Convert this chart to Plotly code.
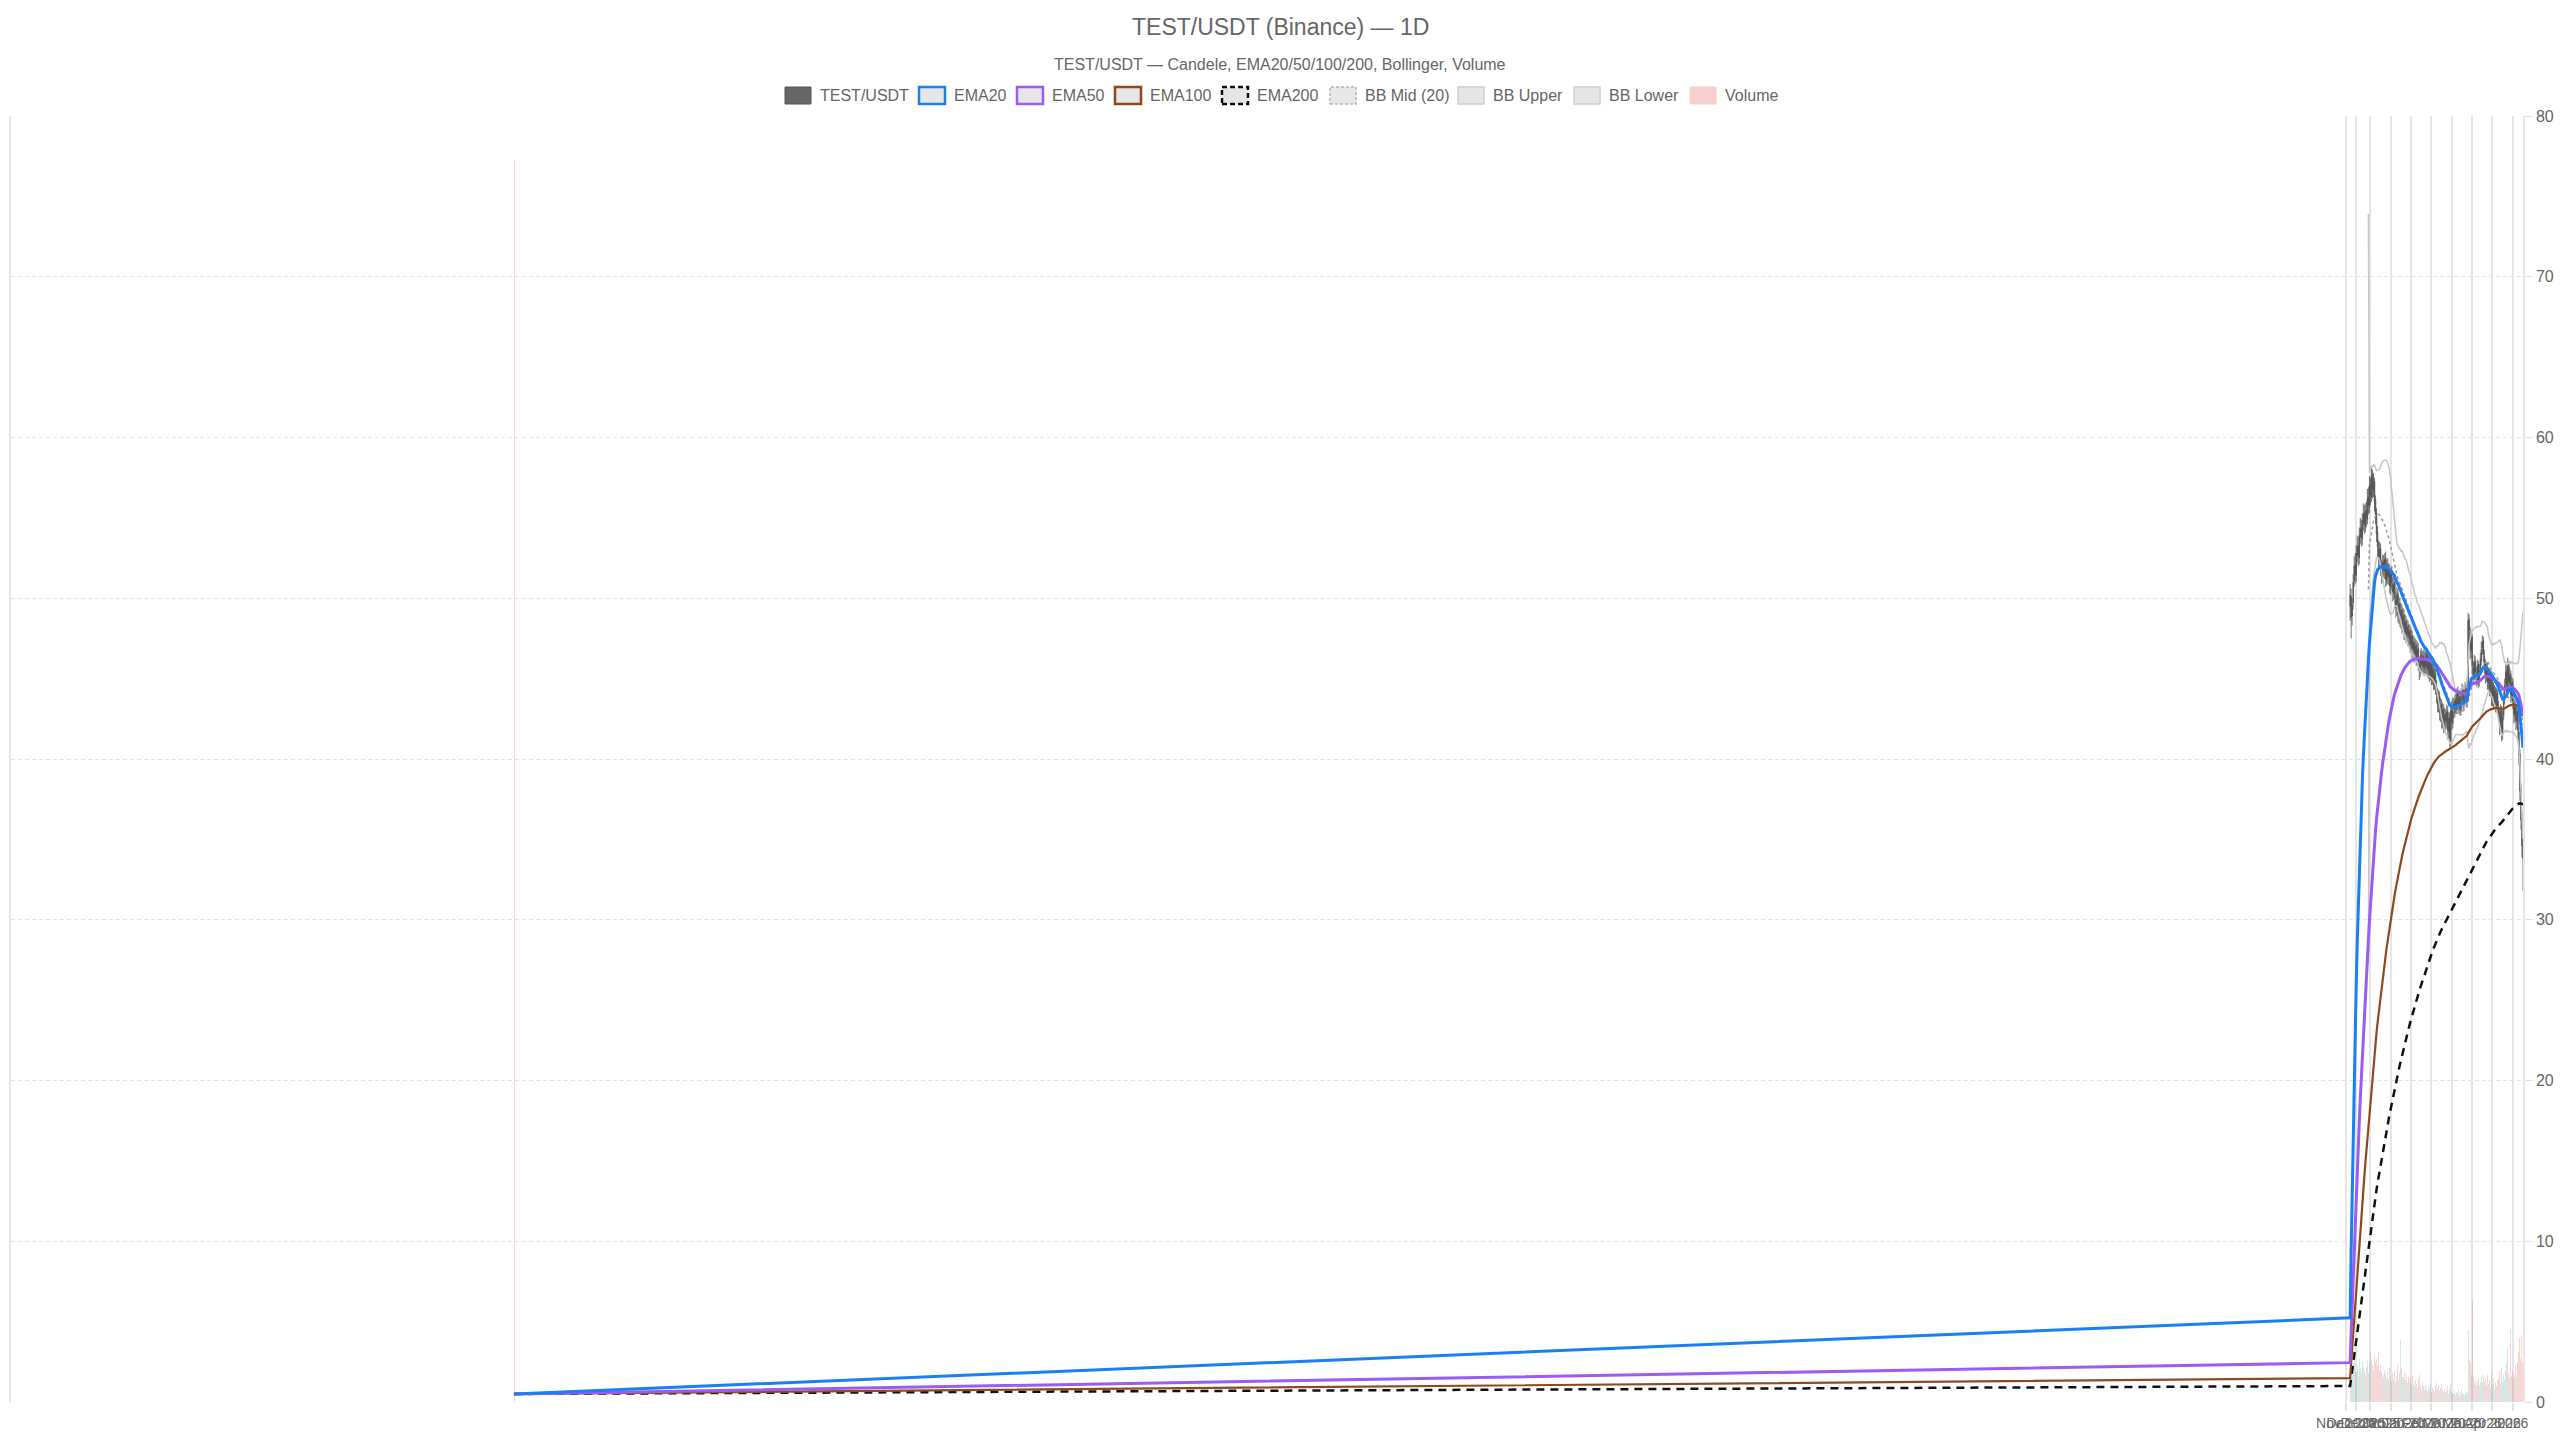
import pandas as pd
import plotly.graph_objects as go

# ---------------- data ----------------
first_point_date = "2020-12-16"          # isolated early bar
first_point_ohlc = (0.52, 0.60, 0.40, 0.50)
first_point_volume = 12000

candle_start = "2025-11-25"              # daily candles from here

opens = [
    49.5, 50.1, 48.9, 49.7, 51.1, 52.1,
    51.4, 52.7, 53.3, 52.5, 53.8, 54.4, 53.7, 54.7,
    55.3, 54.5, 55.5, 54.9, 56.3,
    55.7, 57.1, 56.3, 57.7, 56.7, 57.3, 56.1,
    55.3, 54.1, 53.1, 52.3, 53.1, 51.9, 51.5,
    52.3, 51.7, 52.5, 51.1, 52.1, 51.3, 51.8, 50.7, 51.6, 50.9, 50.3,
    51.0, 49.9, 49.3, 50.3, 48.9, 49.7, 48.7, 49.3, 48.3, 49.0,
    47.9, 48.6, 47.7, 48.3, 47.5, 48.0, 47.1, 47.7,
    46.8, 47.3, 46.5, 47.1, 46.2, 46.9, 45.9, 45.5, 46.5, 45.8, 46.4,
    45.6, 46.3, 45.7, 46.6, 45.5, 46.1, 45.2, 45.9, 45.0, 45.6, 44.7, 45.3,
    44.5, 44.1, 43.3, 43.9, 42.8, 43.4, 42.4, 43.1, 42.1, 42.8,
    42.3, 43.0, 41.7, 42.6, 41.1, 43.1, 42.2,
    43.4, 42.9, 43.7, 43.1, 44.1, 43.3, 43.9, 43.0, 44.0, 44.3, 43.4, 44.0, 44.4, 43.6,
    44.1, 48.7, 47.9, 46.7, 47.6,
    45.7, 45.3, 46.1, 45.3, 44.9, 45.9, 44.8, 45.6,
    46.1, 46.9, 47.4,
    46.4, 45.9, 45.1, 45.7, 44.7, 45.4, 44.3, 45.0, 43.7, 44.6, 43.5, 44.3, 43.3, 44.1,
    43.2, 42.9, 41.9, 43.1, 41.5,
    42.7, 43.7, 44.7, 45.5, 44.1, 45.9, 44.7, 45.3, 43.9,
    44.8, 43.5, 42.7, 43.3, 42.3,
    43.0, 41.7, 40.3, 38.1, 36.3, 34.7,
]
highs = [
    50.9, 50.6, 50.0, 51.5, 52.6, 52.8,
    53.3, 53.9, 53.8, 54.4, 55.0, 54.9, 55.3, 55.9,
    55.8, 55.9, 56.0, 56.8, 56.9,
    57.6, 57.5, 58.1, 58.0, 57.8, 57.5, 56.4,
    55.6, 54.5, 53.6, 53.5, 53.4, 52.4, 52.7,
    52.7, 52.8, 52.9, 52.4, 52.5, 52.2, 52.1, 51.9, 52.0, 51.3, 51.4,
    51.5, 50.4, 50.7, 50.6, 50.1, 50.0, 49.7, 49.6, 49.4, 49.3,
    49.0, 48.9, 48.7, 48.6, 48.4, 48.3, 48.1, 48.0,
    47.7, 47.6, 47.5, 47.4, 47.3, 47.2, 46.3, 46.8, 46.9, 46.7, 46.8,
    46.7, 46.8, 47.0, 46.9, 46.5, 46.4, 46.3, 46.2, 46.0, 45.9, 45.7, 45.6,
    44.9, 44.4, 44.3, 44.2, 43.8, 43.7, 43.5, 43.4, 43.2, 43.1,
    43.4, 43.3, 42.9, 42.9, 43.5, 43.6, 43.8,
    43.8, 44.0, 44.1, 44.4, 44.5, 44.2, 44.3, 44.4, 44.7, 44.6, 44.3, 44.8, 44.7, 44.4,
    49.1, 49.0, 48.2, 48.0, 47.8,
    46.1, 46.5, 46.4, 45.7, 46.2, 46.1, 45.9, 46.6,
    47.3, 47.7, 47.6,
    46.8, 46.2, 46.0, 46.0, 45.7, 45.6, 45.3, 45.2, 44.9, 44.8, 44.6, 44.5, 44.4, 44.3,
    43.6, 43.2, 43.4, 43.3, 43.0,
    44.2, 45.0, 45.9, 45.8, 46.3, 46.1, 45.7, 45.5, 45.1,
    45.0, 43.9, 43.7, 43.6, 43.4,
    43.2, 42.0, 40.6, 38.5, 36.7, 35.2,
]
lows = [
    48.6, 47.5, 48.3, 49.3, 50.7, 50.9,
    51.0, 52.2, 52.0, 52.1, 53.4, 53.2, 53.3, 54.2,
    54.0, 54.1, 54.4, 54.6, 55.2,
    55.3, 55.8, 56.0, 56.2, 56.3, 55.4, 54.6,
    53.5, 52.6, 51.8, 51.9, 51.4, 50.9, 51.0,
    51.3, 51.2, 50.7, 50.8, 50.9, 50.8, 50.3, 50.2, 50.5, 49.8, 49.9,
    49.6, 48.8, 48.9, 48.5, 48.4, 48.2, 48.1, 47.8, 47.9, 47.4,
    47.4, 47.2, 47.3, 47.0, 47.0, 46.6, 46.7, 46.3,
    46.3, 46.0, 46.1, 45.8, 45.8, 45.5, 44.9, 45.1, 45.4, 45.3, 45.2,
    45.2, 45.3, 45.3, 45.1, 45.0, 44.8, 44.9, 44.6, 44.6, 44.3, 44.3, 44.0,
    43.5, 42.9, 42.9, 42.4, 42.3, 41.9, 41.9, 41.6, 41.7, 41.8,
    41.9, 41.2, 41.3, 40.7, 40.8, 41.8, 41.9,
    42.5, 42.6, 42.8, 42.8, 43.0, 42.9, 42.7, 42.7, 43.6, 43.1, 43.0, 43.7, 43.3, 43.2,
    43.8, 47.3, 46.2, 46.3, 45.3,
    44.7, 44.9, 44.9, 44.5, 44.6, 44.4, 44.5, 45.2,
    45.8, 46.5, 46.0,
    45.3, 44.7, 44.8, 44.3, 44.3, 43.9, 43.9, 43.3, 43.3, 43.1, 43.1, 42.9, 42.9, 42.8,
    42.3, 41.5, 41.6, 41.1, 41.2,
    42.4, 43.4, 44.3, 43.8, 43.9, 44.3, 44.3, 43.5, 43.6,
    43.1, 42.2, 42.3, 41.8, 41.9,
    41.2, 39.6, 37.4, 35.6, 33.9, 31.8,
]
closes = [
    50.2, 48.8, 49.6, 51.0, 52.0, 51.5,
    52.8, 53.2, 52.6, 53.9, 54.3, 53.8, 54.8, 55.2,
    54.6, 55.4, 55.0, 56.2, 55.8,
    57.0, 56.4, 57.6, 56.8, 57.2, 56.0, 55.2,
    54.0, 53.2, 52.4, 53.0, 52.0, 51.6, 52.2,
    51.8, 52.4, 51.2, 52.0, 51.4, 51.7, 50.8, 51.5, 51.0, 50.4, 50.9,
    50.0, 49.4, 50.2, 49.0, 49.6, 48.8, 49.2, 48.4, 48.9, 48.0,
    48.5, 47.8, 48.2, 47.6, 47.9, 47.2, 47.6, 46.9,
    47.2, 46.6, 47.0, 46.3, 46.8, 46.0, 45.6, 46.4, 45.9, 46.3, 45.7,
    46.2, 45.8, 46.5, 45.6, 46.0, 45.3, 45.8, 45.1, 45.5, 44.8, 45.2, 44.6,
    44.0, 43.4, 43.8, 42.9, 43.3, 42.5, 43.0, 42.2, 42.7, 42.4,
    42.9, 41.8, 42.5, 41.2, 43.0, 42.3, 43.3,
    43.0, 43.6, 43.2, 44.0, 43.4, 43.8, 43.1, 43.9, 44.2, 43.5, 43.9, 44.3, 43.7, 44.0,
    48.6, 48.0, 46.8, 47.5, 45.8,
    45.2, 46.0, 45.4, 45.0, 45.8, 44.9, 45.5, 46.2,
    46.8, 47.3, 46.5,
    45.8, 45.2, 45.6, 44.8, 45.3, 44.4, 44.9, 43.8, 44.5, 43.6, 44.2, 43.4, 44.0, 43.3,
    42.8, 42.0, 43.0, 41.6, 42.6,
    43.8, 44.6, 45.4, 44.2, 45.8, 44.8, 45.2, 44.0, 44.7,
    43.6, 42.8, 43.2, 42.4, 42.9,
    41.8, 40.2, 38.0, 36.2, 34.6, 33.8,
]
volumes = [
    320, 410, 260, 380, 450, 300,
    290, 360, 250, 420, 330, 280, 390, 350,
    300, 260, 340, 410, 280,
    380, 480, 420, 360, 310, 440, 390,
    420, 350, 480, 300, 360, 290, 260,
    240, 310, 270, 230, 290, 210, 330, 250, 200, 280, 220,
    300, 190, 250, 370, 210, 280, 600, 330, 240, 290,
    210, 260, 180, 240, 200, 230, 170, 250,
    190, 150, 210, 170, 140, 220, 260, 160, 130, 180, 150,
    120, 160, 140, 110, 150, 130, 170, 100, 140, 120, 90, 150,
    180, 130, 160, 110, 140, 170, 120, 100, 130, 90,
    110, 150, 80, 130, 170, 100, 90,
    80, 110, 70, 100, 90, 120, 60, 100, 130, 80, 70, 110, 90, 100,
    700, 420, 380, 260, 980,
    240, 180, 210, 150, 200, 230, 160, 190,
    240, 200, 260,
    190, 220, 150, 260, 170, 210, 140, 280, 160, 230, 130, 190, 150, 210,
    220, 300, 170, 330, 190,
    260, 210, 300, 380, 520, 280, 230, 700, 250,
    300, 220, 260, 350, 240,
    380, 480, 620, 420, 650, 390,
]
assert len(opens) == len(highs) == len(lows) == len(closes) == len(volumes)

x_range = ["2019-08-09", "2026-05-14"]
tick_dates = ["2025-11-21", "2025-12-01", "2025-12-15", "2026-01-04", "2026-01-24",
              "2026-02-13", "2026-03-05", "2026-03-25", "2026-04-14", "2026-05-04"]
tick_labels = ["Nov 2025", "Dec 2025", "Dec 2025", "Jan 2026", "Jan 2026",
               "Feb 2026", "Mar 2026", "Mar 2026", "Apr 2026", "2026"]
price_ticks = [0, 10, 20, 30, 40, 50, 60, 70, 80]

# ---------------- assemble series ----------------
dates = [pd.Timestamp(first_point_date)] + list(pd.date_range(candle_start, periods=len(closes), freq="D"))
o = [first_point_ohlc[0]] + opens
h = [first_point_ohlc[1]] + highs
l = [first_point_ohlc[2]] + lows
c = [first_point_ohlc[3]] + closes
v = [first_point_volume] + volumes

cs = pd.Series(c)
ema = {n: cs.ewm(span=n, adjust=False).mean() for n in (20, 50, 100, 200)}
bb_mid = cs.rolling(20).mean()
bb_std = cs.rolling(20).std(ddof=0)
bb_up = bb_mid + 2 * bb_std
bb_lo = bb_mid - 2 * bb_std

vol_colors = ["rgba(239,83,80,0.25)" if cc < oo else "rgba(38,166,154,0.22)" for oo, cc in zip(o, c)]

# ---------------- figure ----------------
W, H = 2560, 1440
L, R, T, B = 11, 37, 116, 38
PW, PH = W - L - R, H - T - B
FONT = "Liberation Sans, Arial, Helvetica, sans-serif"
TXT = "#666666"
GRID = "#e3e3e3"


def px_x(px):
    return (px - L) / PW


def px_y(py):
    return (H - B - py) / PH


fig = go.Figure()

fig.add_trace(go.Bar(x=dates, y=v, marker=dict(color=vol_colors, line=dict(width=0)),
                     yaxis="y", name="Volume", showlegend=False, hoverinfo="skip"))

fig.add_trace(go.Candlestick(
    x=dates, open=o, high=h, low=l, close=c, yaxis="y2", name="TEST/USDT",
    increasing=dict(line=dict(color="#4f4f4f", width=0.8), fillcolor="#4f4f4f"),
    decreasing=dict(line=dict(color="#4f4f4f", width=0.8), fillcolor="#4f4f4f"),
    whiskerwidth=0, showlegend=False))

line_specs = [
    ("BB Upper", bb_up, dict(color="#c6c6c6", width=1.5)),
    ("BB Lower", bb_lo, dict(color="#c6c6c6", width=1.5)),
    ("BB Mid (20)", bb_mid, dict(color="#9a9a9a", width=1.5, dash="3px,3px")),
    ("EMA200", ema[200], dict(color="#111111", width=2.5, dash="8px,6px")),
    ("EMA100", ema[100], dict(color="#8f4a1c", width=2.2)),
    ("EMA50", ema[50], dict(color="#9b5cf5", width=3)),
    ("EMA20", ema[20], dict(color="#1a7ff5", width=3)),
]
for name, series, ln in line_specs:
    fig.add_trace(go.Scatter(x=dates, y=series, mode="lines", line=ln, name=name,
                             yaxis="y2", showlegend=False, connectgaps=False))

# ---------- custom (Chart.js style) legend ----------
legend_items = [
    ("TEST/USDT", 785, dict(color="#555555", width=1), "#666666"),
    ("EMA20", 919, dict(color="#1a7ff5", width=2.5), "#e6e6e6"),
    ("EMA50", 1017, dict(color="#9b5cf5", width=2.5), "#e6e6e6"),
    ("EMA100", 1115, dict(color="#8f4a1c", width=2.5), "#e6e6e6"),
    ("EMA200", 1222, dict(color="#111111", width=2.5, dash="5px,3px"), "#e6e6e6"),
    ("BB Mid (20)", 1330, dict(color="#b5b5b5", width=1.5, dash="3px,2px"), "#e8e8e8"),
    ("BB Upper", 1458, dict(color="#cfcfcf", width=1.5), "#e6e6e6"),
    ("BB Lower", 1574, dict(color="#cfcfcf", width=1.5), "#e6e6e6"),
    ("Volume", 1690, dict(color="#f7cfce", width=1), "#f7cfce"),
]
LEG_Y, BOX_W, BOX_H = 95.5, 26, 17
shapes, annotations = [], []
for text, x0, ln, fill in legend_items:
    shapes.append(dict(type="rect", xref="paper", yref="paper",
                       x0=px_x(x0), x1=px_x(x0 + BOX_W),
                       y0=px_y(LEG_Y + BOX_H / 2), y1=px_y(LEG_Y - BOX_H / 2),
                       line=ln, fillcolor=fill, layer="above"))
    annotations.append(dict(text=text, xref="paper", yref="paper", x=px_x(x0 + 33), y=px_y(LEG_Y),
                            xanchor="left", yanchor="middle", showarrow=False,
                            font=dict(family=FONT, size=16, color=TXT)))

annotations.append(dict(text="TEST/USDT (Binance) — 1D", xref="paper", yref="paper",
                        x=px_x(1280), y=px_y(27), xanchor="center", yanchor="middle",
                        showarrow=False, font=dict(family=FONT, size=23, color=TXT)))
annotations.append(dict(text="TEST/USDT — Candele, EMA20/50/100/200, Bollinger, Volume",
                        xref="paper", yref="paper", x=px_x(1280), y=px_y(64.5),
                        xanchor="center", yanchor="middle", showarrow=False,
                        font=dict(family=FONT, size=16, color=TXT)))

fig.update_layout(
    width=W, height=H,
    margin=dict(l=L, r=R, t=T, b=B, pad=0, autoexpand=False),
    paper_bgcolor="white", plot_bgcolor="white",
    font=dict(family=FONT, color=TXT),
    showlegend=False, bargap=0,
    shapes=shapes, annotations=annotations,
    xaxis=dict(type="date", range=x_range, tickmode="array", tickvals=tick_dates, ticktext=tick_labels,
               tickangle=0, automargin=False,
               showgrid=True, gridcolor="#e6e6e6", gridwidth=1.5,
               ticks="outside", ticklen=8, tickcolor="#e3e3e3", tickwidth=1.5,
               tickfont=dict(size=14, color=TXT), showline=False, zeroline=False,
               rangeslider=dict(visible=False), fixedrange=True),
    yaxis=dict(range=[0, first_point_volume / 0.966], side="left", showgrid=False, zeroline=False,
               showticklabels=False, showline=True, linecolor="#e6e6e6", linewidth=1.5, ticks=""),
    yaxis2=dict(range=[0, 80], overlaying="y", side="right", tickmode="array", tickvals=price_ticks,
                showgrid=True, gridcolor=GRID, gridwidth=1, griddash="4px,3px", zeroline=False,
                ticks="outside", ticklen=8, tickcolor=GRID, tickwidth=1, automargin=False,
                showline=True, linecolor="#e6e6e6", linewidth=1.5,
                tickfont=dict(size=16, color=TXT)),
)

fig.write_html("out.html", config={"displayModeBar": False},
               post_script="document.body.style.margin='0px';document.body.style.overflow='hidden';")
